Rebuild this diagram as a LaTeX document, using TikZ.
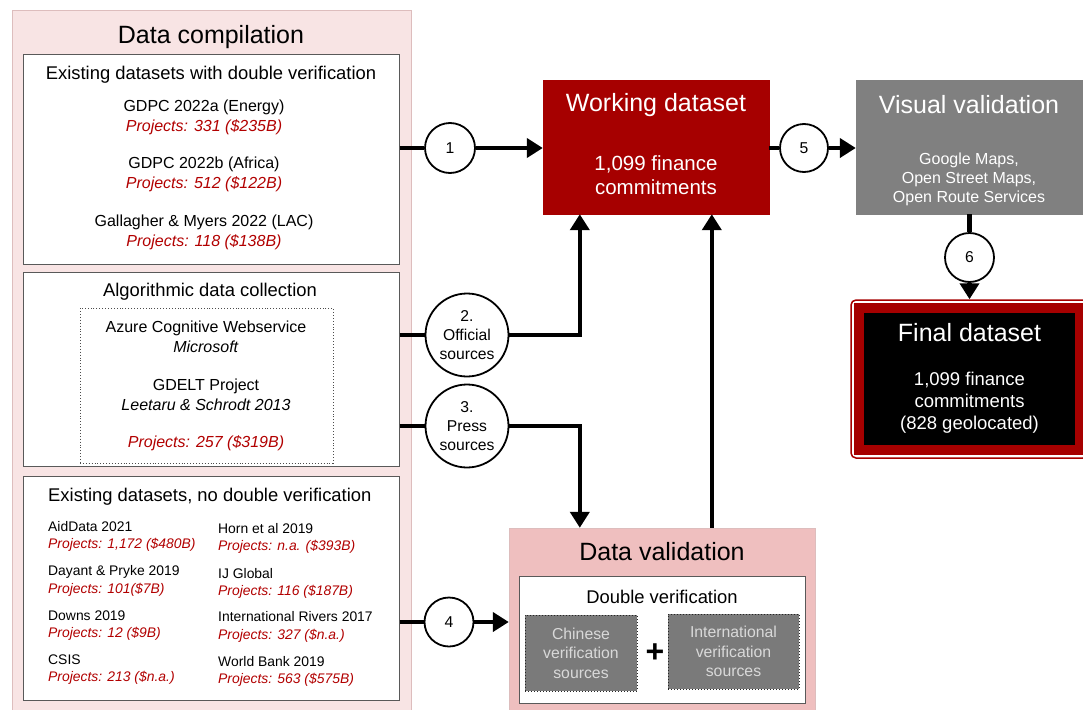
\documentclass[tikz,border=0pt]{standalone}
\usepackage{fontspec}
\setmainfont{Liberation Sans}
\usepackage{xcolor}
\usetikzlibrary{positioning,arrows.meta,fit}

\definecolor{compbg}{HTML}{F8E4E4}
\definecolor{compedge}{HTML}{DDBDBD}
\definecolor{workred}{HTML}{A60000}
\definecolor{projred}{HTML}{B20000}
\definecolor{valbg}{HTML}{EFBFBF}
\definecolor{visgray}{HTML}{808080}
\definecolor{srcgray}{HTML}{7A7A7A}

\newcommand{\proj}[1]{\textcolor{projred}{\itshape Projects: #1}}

\begin{document}
\begin{tikzpicture}[x=1pt, y=-1pt,
        box/.style={draw=black!65, fill=white, line width=1pt, inner sep=0pt},
        head/.style={font=\fontsize{25}{30}\selectfont},
        subhead/.style={font=\fontsize{18.4}{22}\selectfont},
        entry/.style={font=\fontsize{16}{20}\selectfont, align=center, inner sep=0pt},
        small entry/.style={font=\fontsize{13.9}{17.5}\selectfont, align=left, anchor=west, inner sep=0pt},
        stage circle/.style={circle, draw, line width=1.8pt, fill=white, inner sep=0pt, align=center, font=\fontsize{15.7}{19}\selectfont},
        source box/.style={fill=srcgray, draw=black!85, dotted, line width=1pt, inner sep=0pt, text=white!85!black, align=center, font=\fontsize{15.8}{19.5}\selectfont},
        line/.style={draw, line width=4.5pt, -{Triangle[length=16pt, width=19pt]}},
        link/.style={draw, line width=4.5pt}]

        \useasboundingbox (0,0) rectangle (1083,709);

        % data compilation
        \node [draw=compedge, fill=compbg, line width=1pt, inner sep=0pt, minimum width=399pt, minimum height=729pt] (compilation) at (211.5,375.5) {};
        \node [head] (compilation title) at (211,37) {Data compilation};

        \node [box, minimum width=376pt, minimum height=209pt] (double) at (211,159.5) {};
        \node [subhead] (double title) at (211,75) {Existing datasets with double verification};
        \node [entry] (gdpc a) at (204,117) {GDPC 2022a (Energy)\\\proj{331 (\$235B)}};
        \node [entry] (gdpc b) at (204,174.5) {GDPC 2022b (Africa)\\\proj{512 (\$122B)}};
        \node [entry] (gallagher) at (204,232.5) {Gallagher \& Myers 2022 (LAC)\\\proj{118 (\$138B)}};

        \node [box, minimum width=376pt, minimum height=194pt] (algorithmic) at (211,369) {};
        \node [subhead] (algorithmic title) at (210,292) {Algorithmic data collection};
        \node [draw=black!70, dotted, line width=0.9pt, inner sep=0pt, minimum width=253pt, minimum height=155pt] (scraping) at (206.5,385.5) {};
        \node [entry] (azure) at (206,336.5) {Azure Cognitive Webservice\\\textit{Microsoft}};
        \node [entry] (gdelt) at (206,394.5) {GDELT Project\\\textit{Leetaru \& Schrodt 2013}};
        \node [entry] (algorithmic projects) at (206,443) {\proj{257 (\$319B)}};

        \node [box, minimum width=376pt, minimum height=224pt] (nodouble) at (211,588) {};
        \node [subhead, anchor=west, inner sep=0pt] (nodouble title) at (48,497) {Existing datasets, no double verification};
        \node [small entry] (aiddata) at (48,536.5) {AidData 2021\\\proj{1,172 (\$480B)}};
        \node [small entry] (dayant) at (48,581) {Dayant \& Pryke 2019\\\proj{101(\$7B)}};
        \node [small entry] (downs) at (48,625.5) {Downs 2019\\\proj{12 (\$9B)}};
        \node [small entry] (csis) at (48,669.5) {CSIS\\\proj{213 (\$n.a.)}};
        \node [small entry] (horn) at (218,538.5) {Horn et al 2019\\\proj{n.a. (\$393B)}};
        \node [small entry] (ijglobal) at (218,583.5) {IJ Global\\\proj{116 (\$187B)}};
        \node [small entry] (rivers) at (218,627) {International Rivers 2017\\\proj{327 (\$n.a.)}};
        \node [small entry] (worldbank) at (218,671.5) {World Bank 2019\\\proj{563 (\$575B)}};

        % working and visual validation
        \node [fill=workred, draw=workred, inner sep=0pt, minimum width=226pt, minimum height=134pt] (working) at (656,147) {};
        \node [head, text=white] (working title) at (656,105) {Working dataset};
        \node [text=white, align=center, font=\fontsize{20.5}{24}\selectfont] (working count) at (656,175) {1,099 finance\\commitments};

        \node [fill=visgray, draw=visgray, inner sep=0pt, minimum width=226pt, minimum height=134pt] (visual) at (969,147) {};
        \node [head, text=white] (visual title) at (969,105) {Visual validation};
        \node [text=white, align=center, font=\fontsize{16}{19}\selectfont] (visual tools) at (969,179) {Google Maps,\\Open Street Maps,\\Open Route Services};

        % final dataset
        \node [fill=black, draw=workred, line width=10pt, inner sep=0pt, minimum width=221pt, minimum height=142pt] (final) at (969.5,379) {};
        \node [fit=(final), draw=workred, line width=1.5pt, rounded corners=5pt, inner sep=3pt] (final frame) {};
        \node [head, text=white] (final title) at (969.5,333) {Final dataset};
        \node [text=white, align=center, font=\fontsize{18.5}{22}\selectfont] (final count) at (969.5,403) {1,099 finance\\commitments\\(828 geolocated)};

        % data validation
        \node [fill=valbg, draw=compedge, inner sep=0pt, minimum width=306pt, minimum height=192pt] (validation) at (662,624) {};
        \node [head] (validation title) at (662,552) {Data validation};
        \node [box, minimum width=286pt, minimum height=127pt] (verification) at (662,639.5) {};
        \node [font=\fontsize{18.4}{22}\selectfont] (verification title) at (662,597) {Double verification};
        \node [source box, minimum width=112pt, minimum height=76pt] (chinese) at (581,653) {Chinese\\verification\\sources};
        \node [source box, minimum width=131pt, minimum height=75pt] (international) at (733.5,651.5) {International\\verification\\sources};
        \node [font=\fontsize{32}{32}\selectfont\bfseries] (plus) at (655,653) {+};

        % steps
        \node [stage circle, minimum size=50pt] (s1) at (450,148) {1};
        \node [stage circle, minimum size=83pt] (s2) at (467,335) {2.\\Official\\sources};
        \node [stage circle, minimum size=83pt] (s3) at (467,426) {3.\\Press\\sources};
        \node [stage circle, minimum size=49pt] (s4) at (449,622) {4};
        \node [stage circle, minimum size=48pt] (s5) at (804,148) {5};
        \node [stage circle, minimum size=49pt] (s6) at (969.5,257.5) {6};

        \path [link] (double.east |- s1) -- (s1);
        \path [line] (s1) -- (working.west |- s1);
        \path [link] (algorithmic.east |- s2) -- (s2);
        \path [line] (s2) -| ([xshift=37pt]working.south west);
        \path [link] (algorithmic.east |- s3) -- (s3);
        \path [line] (s3) -| ([xshift=71pt]validation.north west);
        \path [line] ([xshift=203pt]validation.north west) -- ([xshift=169pt]working.south west);
        \path [link] (nodouble.east |- s4) -- (s4);
        \path [line] (s4) -- (validation.west |- s4);
        \path [link] (working.east |- s5) -- (s5);
        \path [line] (s5) -- (visual.west |- s5);
        \path [link] (visual.south -| s6) -- (s6);
        \path [line] (s6) -- (final frame.north -| s6);
    \end{tikzpicture}
\end{document}
